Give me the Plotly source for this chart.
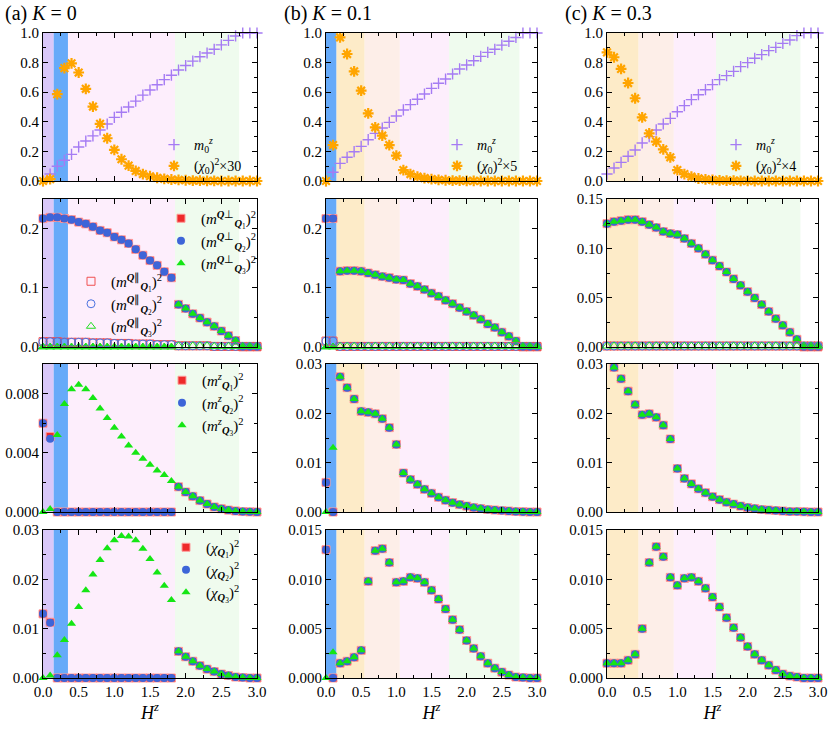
import plotly.graph_objects as go

# ---------------- data ----------------
H = [0.0, 0.1, 0.2, 0.3, 0.4, 0.5, 0.6, 0.7, 0.8, 0.9, 1.0, 1.1, 1.2, 1.3, 1.4, 1.5,
     1.6, 1.7, 1.8, 1.9, 2.0, 2.1, 2.2, 2.3, 2.4, 2.5, 2.6, 2.7, 2.8, 2.9, 3.0]

# column (a) K = 0
m0z_a = [0.0, 0.047, 0.10, 0.14, 0.18, 0.23, 0.27, 0.305, 0.345, 0.385, 0.43, 0.465, 0.50, 0.54, 0.58, 0.615,
         0.65, 0.685, 0.715, 0.75, 0.78, 0.81, 0.84, 0.865, 0.89, 0.92, 0.95, 0.98, 1.0, 1.0, 1.0]
chi0_a_x30 = [0.0, 0.012, 0.587, 0.763, 0.795, 0.733, 0.623, 0.503, 0.386, 0.289, 0.21, 0.147, 0.104, 0.068, 0.047, 0.032,
              0.022, 0.015, 0.01, 0.007, 0.005, 0.003, 0.002, 0.001, 0.001, 0.0, 0.0, 0.0, 0.0, 0.0, 0.0]
mperp_Q1_a = [0.217, 0.219, 0.219, 0.217, 0.215, 0.211, 0.208, 0.203, 0.197, 0.193, 0.186, 0.181, 0.175, 0.165, 0.155, 0.146,
              0.138, 0.127, 0.117, 0.072, 0.065, 0.056, 0.049, 0.042, 0.035, 0.027, 0.019, 0.011, 0.0, 0.0, 0.0]
mperp_Q2_a = [0.217, 0.219, 0.219, 0.217, 0.215, 0.211, 0.208, 0.203, 0.197, 0.193, 0.186, 0.181, 0.175, 0.165, 0.155, 0.146,
              0.138, 0.127, 0.117, 0.072, 0.065, 0.056, 0.049, 0.042, 0.035, 0.027, 0.019, 0.011, 0.0, 0.0, 0.0]
mperp_Q3_a = [0.0, 0.0, 0.0, 0.0, 0.0, 0.0, 0.0, 0.0, 0.0, 0.0, 0.0, 0.0, 0.0, 0.0, 0.0, 0.0,
              0.0, 0.0, 0.0, 0.072, 0.065, 0.056, 0.049, 0.042, 0.035, 0.027, 0.019, 0.011, 0.0, 0.0, 0.0]
mpar_Q1_a = [0.009, 0.009, 0.009, 0.008, 0.008, 0.008, 0.008, 0.007, 0.007, 0.007, 0.006, 0.006, 0.006, 0.005, 0.005, 0.005,
             0.004, 0.004, 0.004, 0.002, 0.002, 0.002, 0.002, 0.002, 0.001, 0.001, 0.001, 0.001, 0.001, 0.001, 0.001]
mpar_Q2_a = [0.009, 0.009, 0.009, 0.008, 0.008, 0.008, 0.008, 0.007, 0.007, 0.007, 0.006, 0.006, 0.006, 0.005, 0.005, 0.005,
             0.004, 0.004, 0.004, 0.002, 0.002, 0.002, 0.002, 0.002, 0.001, 0.001, 0.001, 0.001, 0.001, 0.001, 0.001]
mpar_Q3_a = [0.0, 0.0, 0.0, 0.0, 0.0, 0.0, 0.0, 0.0, 0.0, 0.0, 0.0, 0.0, 0.0, 0.0, 0.0, 0.0,
             0.0, 0.0, 0.0, 0.002, 0.002, 0.002, 0.002, 0.002, 0.001, 0.001, 0.001, 0.001, 0.001, 0.001, 0.001]
mz_Q1_a = [0.006, 0.0051, 0.0, 0.0, 0.0, 0.0, 0.0, 0.0, 0.0, 0.0, 0.0, 0.0, 0.0, 0.0, 0.0, 0.0,
           0.0, 0.0, 0.0, 0.0017, 0.00135, 0.00106, 0.00077, 0.00054, 0.00034, 0.00022, 0.00013, 0.00007, 0.00003, 0.00001, 0.0]
mz_Q2_a = [0.006, 0.00495, 0.0, 0.0, 0.0, 0.0, 0.0, 0.0, 0.0, 0.0, 0.0, 0.0, 0.0, 0.0, 0.0, 0.0,
           0.0, 0.0, 0.0, 0.0017, 0.00135, 0.00106, 0.00077, 0.00054, 0.00034, 0.00022, 0.00013, 0.00007, 0.00003, 0.00001, 0.0]
mz_Q3_a = [0.0, 0.0002, 0.0052, 0.0073, 0.0083, 0.0086, 0.0083, 0.0077, 0.0070, 0.00635, 0.0057, 0.0051, 0.0045, 0.0040, 0.0036, 0.0032,
           0.0028, 0.0025, 0.0021, 0.0017, 0.00135, 0.00106, 0.00077, 0.00054, 0.00034, 0.00022, 0.00013, 0.00007, 0.00003, 0.00001, 0.0]
chi_Q1_a = [0.013, 0.0113, 0.0, 0.0, 0.0, 0.0, 0.0, 0.0, 0.0, 0.0, 0.0, 0.0, 0.0, 0.0, 0.0, 0.0,
            0.0, 0.0, 0.0, 0.0054, 0.0043, 0.0034, 0.0025, 0.0018, 0.0013, 0.0008, 0.0005, 0.0002, 0.0001, 0.0, 0.0]
chi_Q2_a = [0.013, 0.0112, 0.0, 0.0, 0.0, 0.0, 0.0, 0.0, 0.0, 0.0, 0.0, 0.0, 0.0, 0.0, 0.0, 0.0,
            0.0, 0.0, 0.0, 0.0054, 0.0043, 0.0034, 0.0025, 0.0018, 0.0013, 0.0008, 0.0005, 0.0002, 0.0001, 0.0, 0.0]
chi_Q3_a = [0.0, 0.0005, 0.0046, 0.0077, 0.011, 0.0144, 0.0178, 0.021, 0.0239, 0.0263, 0.0279, 0.0288, 0.0287, 0.0279, 0.0262, 0.0241,
            0.0214, 0.0187, 0.0158, 0.0054, 0.0043, 0.0034, 0.0025, 0.0018, 0.0013, 0.0008, 0.0005, 0.0002, 0.0001, 0.0, 0.0]

# column (b) K = 0.1
m0z_b = [0.0, 0.059, 0.119, 0.16, 0.198, 0.234, 0.279, 0.322, 0.358, 0.396, 0.439, 0.48, 0.516, 0.552, 0.588, 0.626,
         0.66, 0.689, 0.723, 0.757, 0.784, 0.813, 0.842, 0.869, 0.89, 0.918, 0.944, 0.97, 1.0, 1.0, 1.0]
chi0_b_x5 = [0.0, 0.243, 0.97, 0.858, 0.741, 0.61, 0.457, 0.363, 0.306, 0.243, 0.171, 0.074, 0.047, 0.03, 0.02, 0.012,
             0.008, 0.005, 0.003, 0.002, 0.001, 0.001, 0.0, 0.0, 0.0, 0.0, 0.0, 0.0, 0.0, 0.0, 0.0]
mperp_Q12_b = [0.217, 0.217, 0.128, 0.129, 0.129, 0.128, 0.125, 0.122, 0.119, 0.117, 0.114, 0.113, 0.107, 0.1025, 0.097, 0.091,
               0.0856, 0.079, 0.073, 0.0665, 0.060, 0.0535, 0.047, 0.039, 0.033, 0.025, 0.018, 0.010, 0.0, 0.0, 0.0]
mperp_Q3_b = [0.0, 0.0, 0.128, 0.129, 0.129, 0.128, 0.125, 0.122, 0.119, 0.117, 0.114, 0.113, 0.107, 0.1025, 0.097, 0.091,
              0.0856, 0.079, 0.073, 0.0665, 0.060, 0.0535, 0.047, 0.039, 0.033, 0.025, 0.018, 0.010, 0.0, 0.0, 0.0]
mpar_Q12_b = [0.01, 0.01, 0.001, 0.001, 0.001, 0.001, 0.001, 0.001, 0.001, 0.001, 0.001, 0.001, 0.001, 0.001, 0.001, 0.001,
              0.001, 0.001, 0.001, 0.001, 0.001, 0.001, 0.001, 0.001, 0.001, 0.001, 0.001, 0.001, 0.001, 0.001, 0.001]
mpar_Q3_b = [0.0, 0.0, 0.001, 0.001, 0.001, 0.001, 0.001, 0.001, 0.001, 0.001, 0.001, 0.001, 0.001, 0.001, 0.001, 0.001,
             0.001, 0.001, 0.001, 0.001, 0.001, 0.001, 0.001, 0.001, 0.001, 0.001, 0.001, 0.001, 0.001, 0.001, 0.001]
mz_Q12_b = [0.006, 0.0, 0.0274, 0.0252, 0.0229, 0.0204, 0.0202, 0.0199, 0.0189, 0.0171, 0.0137, 0.0079, 0.0066, 0.0056, 0.0046, 0.0038,
            0.0030, 0.0024, 0.0019, 0.0015, 0.0012, 0.0009, 0.0007, 0.0005, 0.0004, 0.0003, 0.0002, 0.0001, 0.00005, 0.0, 0.0]
mz_Q3_b = [0.0, 0.0130, 0.0274, 0.0252, 0.0229, 0.0204, 0.0202, 0.0199, 0.0189, 0.0171, 0.0137, 0.0079, 0.0066, 0.0056, 0.0046, 0.0038,
           0.0030, 0.0024, 0.0019, 0.0015, 0.0012, 0.0009, 0.0007, 0.0005, 0.0004, 0.0003, 0.0002, 0.0001, 0.00005, 0.0, 0.0]
chi_Q12_b = [0.013, 0.0, 0.0015, 0.0017, 0.0021, 0.0028, 0.0098, 0.0129, 0.0131, 0.0117, 0.0097, 0.0098, 0.0102, 0.0101, 0.0097, 0.0089,
             0.0080, 0.0070, 0.0059, 0.0049, 0.0038, 0.0030, 0.0022, 0.0015, 0.0010, 0.0006, 0.0003, 0.0001, 0.00005, 0.0, 0.0]
chi_Q3_b = [0.0, 0.0026, 0.0015, 0.0017, 0.0021, 0.0028, 0.0098, 0.0129, 0.0131, 0.0117, 0.0097, 0.0098, 0.0102, 0.0101, 0.0097, 0.0089,
            0.0080, 0.0070, 0.0059, 0.0049, 0.0038, 0.0030, 0.0022, 0.0015, 0.0010, 0.0006, 0.0003, 0.0001, 0.00005, 0.0, 0.0]

# column (c) K = 0.3
m0z_c = [0.047, 0.088, 0.126, 0.167, 0.209, 0.257, 0.30, 0.345, 0.385, 0.423, 0.468, 0.509, 0.55, 0.583, 0.617, 0.651,
         0.685, 0.712, 0.741, 0.773, 0.80, 0.829, 0.854, 0.881, 0.903, 0.93, 0.953, 0.982, 1.0, 1.0, 1.0]
chi0_c_x4 = [0.869, 0.836, 0.757, 0.662, 0.559, 0.43, 0.322, 0.266, 0.214, 0.16, 0.074, 0.047, 0.029, 0.017, 0.011, 0.007,
             0.004, 0.003, 0.002, 0.001, 0.001, 0.0, 0.0, 0.0, 0.0, 0.0, 0.0, 0.0, 0.0, 0.0, 0.0]
mperp_c = [0.125, 0.127, 0.128, 0.129, 0.129, 0.127, 0.124, 0.121, 0.117, 0.115, 0.114, 0.110, 0.105, 0.100, 0.094, 0.088,
           0.082, 0.076, 0.069, 0.0625, 0.056, 0.0497, 0.043, 0.036, 0.0287, 0.022, 0.015, 0.0078, 0.0, 0.0, 0.0]
mpar_c = [0.001, 0.001, 0.001, 0.001, 0.001, 0.001, 0.001, 0.001, 0.001, 0.001, 0.001, 0.001, 0.001, 0.001, 0.001, 0.001,
          0.001, 0.001, 0.001, 0.001, 0.001, 0.001, 0.001, 0.001, 0.001, 0.001, 0.001, 0.001, 0.001, 0.001, 0.001]
mz_c = [None, 0.0293, 0.027, 0.0245, 0.0218, 0.0197, 0.0199, 0.0192, 0.0176, 0.0148, 0.0088, 0.0068, 0.0057, 0.0047, 0.0039, 0.0031,
        0.0025, 0.0020, 0.0016, 0.0012, 0.0009, 0.0007, 0.0005, 0.0004, 0.0003, 0.0002, 0.0001, 0.0001, 0.00005, 0.0, 0.0]
chi_c = [0.0015, 0.0015, 0.0015, 0.0018, 0.0024, 0.005, 0.0117, 0.0133, 0.0123, 0.0102, 0.0094, 0.0101, 0.0102, 0.0098, 0.0091, 0.0082,
         0.0072, 0.0061, 0.0051, 0.0041, 0.0032, 0.0024, 0.0018, 0.0013, 0.0008, 0.0004, 0.0002, 0.0001, 0.0, 0.0, 0.0]

# phase-region boundaries (H^z) and colours per column
band_edges_a = [0.0, 0.15, 0.35, 1.85, 2.75]
band_colors_a = ["#d9c8f9", "#66aaf9", "#fdeefc", "#effbee"]
band_edges_b = [0.0, 0.15, 0.55, 1.05, 1.75, 2.75]
band_colors_b = ["#66aaf9", "#fdebc8", "#fdeee8", "#fdeefc", "#effbee"]
band_edges_c = [0.0, 0.45, 0.95, 1.55, 2.75]
band_colors_c = ["#fdebc8", "#fdeee8", "#fdeefc", "#effbee"]

panel_titles = ["(a) <i>K</i> = 0", "(b) <i>K</i> = 0.1", "(c) <i>K</i> = 0.3"]
chi_labels = ["(<i>χ</i><sub>0</sub>)<sup>2</sup>×30", "(<i>χ</i><sub>0</sub>)<sup>2</sup>×5", "(<i>χ</i><sub>0</sub>)<sup>2</sup>×4"]

# ---------------- styling ----------------
FONT = "Liberation Serif, Times New Roman, serif"
W, HT = 830, 729
col_px = [(43, 257), (326, 537), (607, 818)]
row_px = [(33, 181), (199, 347), (364, 512), (530, 678)]


def px_x(p):
    return p / W


def px_y(p):
    return 1 - p / HT


RED, BLUE, GREEN = "#ee2a2a", "#3d65d8", "#14e614"
PURPLE, ORANGE = "#a57bf3", "#ffa500"

fig = go.Figure()


def ax(idx, kind):
    return kind if idx == 1 else f"{kind}{idx}"


def add(idx, y, name, symbol, color, size, lw=0, lcolor=None, legend=None):
    fig.add_trace(go.Scatter(
        x=H, y=y, mode="markers", name=name,
        xaxis=ax(idx, "x"), yaxis=ax(idx, "y"), cliponaxis=False,
        marker=dict(symbol=symbol, color=color, size=size,
                    line=dict(color=lcolor or color, width=lw)),
        showlegend=legend is not None, legend=legend or "legend"))


def Q(i):
    return f"<b><i>Q</i></b><sub>{i}</sub>"


cols = [
    dict(m0z=m0z_a, chi0=chi0_a_x30,
         perp=[mperp_Q1_a, mperp_Q2_a, mperp_Q3_a], par=[mpar_Q1_a, mpar_Q2_a, mpar_Q3_a],
         mz=[mz_Q1_a, mz_Q2_a, mz_Q3_a], chi=[chi_Q1_a, chi_Q2_a, chi_Q3_a],
         edges=band_edges_a, colors=band_colors_a),
    dict(m0z=m0z_b, chi0=chi0_b_x5,
         perp=[mperp_Q12_b, mperp_Q12_b, mperp_Q3_b], par=[mpar_Q12_b, mpar_Q12_b, mpar_Q3_b],
         mz=[mz_Q12_b, mz_Q12_b, mz_Q3_b], chi=[chi_Q12_b, chi_Q12_b, chi_Q3_b],
         edges=band_edges_b, colors=band_colors_b),
    dict(m0z=m0z_c, chi0=chi0_c_x4,
         perp=[mperp_c, mperp_c, mperp_c], par=[mpar_c, mpar_c, mpar_c],
         mz=[mz_c, mz_c, mz_c], chi=[chi_c, chi_c, chi_c],
         edges=band_edges_c, colors=band_colors_c),
]

row1_leg = ["legend", "legend6", "legend7"]

yspec = {
    (1, 0): ([0, 0.25], 0.1, 0.05, ".1f"), (1, 1): ([0, 0.25], 0.1, 0.05, ".1f"), (1, 2): ([0, 0.15], 0.05, 0.025, ".2f"),
    (2, 0): ([0, 0.01], 0.004, 0.002, ".3f"), (2, 1): ([0, 0.03], 0.01, 0.005, ".2f"), (2, 2): ([0, 0.03], 0.01, 0.005, ".2f"),
    (3, 0): ([0, 0.03], 0.01, 0.005, ".2f"), (3, 1): ([0, 0.015], 0.005, 0.0025, ".3f"), (3, 2): ([0, 0.015], 0.005, 0.0025, ".3f"),
}

shapes = []
layout_axes = {}
for c, d in enumerate(cols):
    for r in range(4):
        idx = r * 3 + c + 1
        if r == 0:
            lg = row1_leg[c]
            add(idx, d["m0z"], "<i>m</i><sub>0</sub><sup><i>z</i></sup>", "cross-thin", PURPLE, 8, 1.4, legend=lg)
            add(idx, d["chi0"], chi_labels[c], "asterisk-open", ORANGE, 9, 2.2, legend=lg)
        elif r == 1:
            lp = "legend2" if c == 0 else None
            lq = "legend3" if c == 0 else None
            add(idx, d["perp"][0], f"(<i>m</i><sup><b><i>Q</i></b>⊥</sup><sub>{Q(1)}</sub>)<sup>2</sup>", "square", RED, 8, 1, "#ff9a9a", lp)
            add(idx, d["perp"][1], f"(<i>m</i><sup><b><i>Q</i></b>⊥</sup><sub>{Q(2)}</sub>)<sup>2</sup>", "circle", BLUE, 8, 0, None, lp)
            add(idx, d["perp"][2], f"(<i>m</i><sup><b><i>Q</i></b>⊥</sup><sub>{Q(3)}</sub>)<sup>2</sup>", "triangle-up", GREEN, 8, 0, None, lp)
            add(idx, d["par"][0], f"(<i>m</i><sup><b><i>Q</i></b>∥</sup><sub>{Q(1)}</sub>)<sup>2</sup>", "square-open", "#f05050", 8, 1, None, lq)
            add(idx, d["par"][1], f"(<i>m</i><sup><b><i>Q</i></b>∥</sup><sub>{Q(2)}</sub>)<sup>2</sup>", "circle-open", "#4a72e0", 8, 1, None, lq)
            add(idx, d["par"][2], f"(<i>m</i><sup><b><i>Q</i></b>∥</sup><sub>{Q(3)}</sub>)<sup>2</sup>", "triangle-up-open", "#22dd22", 8, 1, None, lq)
        elif r == 2:
            lg = "legend4" if c == 0 else None
            for k, (sym, colr, lw, lc) in enumerate([("square", RED, 1, "#ff9a9a"), ("circle", BLUE, 0, None), ("triangle-up", GREEN, 0, None)]):
                add(idx, d["mz"][k], f"(<i>m</i><sup><i>z</i></sup><sub>{Q(k + 1)}</sub>)<sup>2</sup>", sym, colr, 8, lw, lc, lg)
        else:
            lg = "legend5" if c == 0 else None
            for k, (sym, colr, lw, lc) in enumerate([("square", RED, 1, "#ff9a9a"), ("circle", BLUE, 0, None), ("triangle-up", GREEN, 0, None)]):
                add(idx, d["chi"][k], f"(<i>χ</i><sub>{Q(k + 1)}</sub>)<sup>2</sup>", sym, colr, 8, lw, lc, lg)

        for e0, e1, bc in zip(d["edges"][:-1], d["edges"][1:], d["colors"]):
            shapes.append(dict(type="rect", xref=ax(idx, "x"), yref=ax(idx, "y") + " domain",
                               x0=e0, x1=e1, y0=0, y1=1, fillcolor=bc, line=dict(width=0), layer="below"))

        x0, x1 = col_px[c]
        yt, yb = row_px[r]
        xa = dict(domain=[px_x(x0), px_x(x1)], anchor=ax(idx, "y"), range=[0, 3.0], automargin=False,
                  showline=True, linecolor="black", linewidth=1, mirror="allticks",
                  ticks="inside", ticklen=5, tickcolor="black", dtick=0.5, tick0=0,
                  minor=dict(ticks="inside", ticklen=3, dtick=0.25, tickcolor="black"),
                  showgrid=False, zeroline=False, tickformat=".1f",
                  showticklabels=(r == 3), tickfont=dict(family=FONT, size=15, color="black"))
        if r == 3:
            xa["title"] = dict(text="<i>H</i><sup><i>z</i></sup>", font=dict(family=FONT, size=18, color="black"), standoff=4)
        if r == 0:
            yr, dt, mdt, fmt = [0, 1.0], 0.2, 0.1, ".1f"
        else:
            yr, dt, mdt, fmt = yspec[(r, c)]
        ya = dict(domain=[px_y(yb), px_y(yt)], anchor=ax(idx, "x"), range=yr, automargin=False,
                  showline=True, linecolor="black", linewidth=1, mirror="allticks",
                  ticks="inside", ticklen=5, tickcolor="black", dtick=dt, tick0=0,
                  minor=dict(ticks="inside", ticklen=3, dtick=mdt, tickcolor="black"),
                  showgrid=False, zeroline=False, tickformat=fmt,
                  tickfont=dict(family=FONT, size=15, color="black"))
        layout_axes[ax(idx, "xaxis")] = xa
        layout_axes[ax(idx, "yaxis")] = ya


def leg(mx, ty, size=15):
    return dict(x=px_x(mx - 26), y=px_y(ty), xanchor="left", yanchor="top",
                bgcolor="rgba(0,0,0,0)", borderwidth=0, tracegroupgap=0,
                font=dict(family=FONT, size=size, color="black"))


annotations = []
title_x = [3, 282, 563]
for c in range(3):
    annotations.append(dict(text=panel_titles[c], x=px_x(title_x[c]), y=px_y(14), xref="paper", yref="paper",
                            xanchor="left", yanchor="middle", showarrow=False,
                            font=dict(family=FONT, size=20, color="black")))

fig.update_layout(
    template="none",
    width=W, height=HT, margin=dict(l=0, r=0, t=0, b=0, autoexpand=False),
    paper_bgcolor="white", plot_bgcolor="white",
    font=dict(family=FONT, color="black"),
    shapes=shapes, annotations=annotations,
    legend=leg(180, 129, 14), legend6=leg(463, 129, 14), legend7=leg(742, 129, 14),
    legend2=leg(187, 202), legend3=leg(97, 265), legend4=leg(188, 364), legend5=leg(192, 531),
    **layout_axes,
)

fig.write_html("out.html", config={"displayModeBar": False},
               post_script="document.body.style.margin='0';document.body.style.overflow='hidden';")
